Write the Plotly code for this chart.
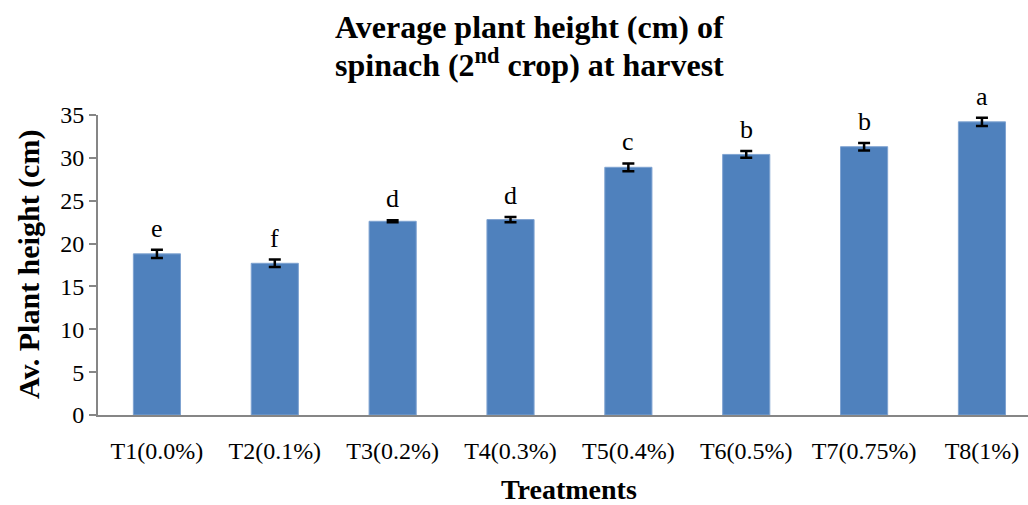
import plotly.graph_objects as go

categories = ["T1(0.0%)", "T2(0.1%)", "T3(0.2%)", "T4(0.3%)", "T5(0.4%)", "T6(0.5%)", "T7(0.75%)", "T8(1%)"]
heights = [18.8, 17.7, 22.6, 22.8, 28.9, 30.4, 31.3, 34.2]
errors = [0.49, 0.43, 0.12, 0.31, 0.45, 0.39, 0.43, 0.47]
letters = ["e", "f", "d", "d", "c", "b", "b", "a"]
y_ticks = [0, 5, 10, 15, 20, 25, 30, 35]

W, H = 1028, 505
L, R, T, B = 98, 0, 115, 90

fig = go.Figure()
fig.add_trace(go.Bar(
    x=list(range(len(categories))), y=heights, width=0.4,
    marker=dict(color="#4F81BD", line=dict(color="#7FA3D1", width=1)),
    error_y=dict(type="data", array=errors, visible=True, color="black", thickness=2.5, width=6),
    hoverinfo="skip",
))

serif = "Liberation Serif, Times New Roman, serif"
ann = []
for i, (h, e, t) in enumerate(zip(heights, errors, letters)):
    ann.append(dict(x=i, y=h + e, xref="x", yref="y", text=t, showarrow=False,
                    yanchor="bottom", yshift=5, font=dict(family=serif, size=26, color="black")))

def px_x(p):
    return (p - L) / (W - L - R)

def px_y(p):
    return 1 - (p - T) / (H - T - B)

ann.append(dict(x=px_x(529), y=px_y(27), xref="paper", yref="paper", showarrow=False,
                text="<b>Average plant height (cm) of</b>",
                font=dict(family=serif, size=32, color="black"), xanchor="center", yanchor="middle"))
ann.append(dict(x=px_x(529), y=px_y(63), xref="paper", yref="paper", showarrow=False,
                text="<b>spinach (2<sup>nd</sup> crop) at harvest</b>",
                font=dict(family=serif, size=32, color="black"), xanchor="center", yanchor="middle"))
ann.append(dict(x=px_x(569), y=px_y(489), xref="paper", yref="paper", showarrow=False,
                text="<b>Treatments</b>", font=dict(family=serif, size=28, color="black"),
                xanchor="center", yanchor="middle"))
ann.append(dict(x=px_x(29), y=px_y(265), xref="paper", yref="paper", showarrow=False,
                text="<b>Av. Plant height (cm)</b>", textangle=-90,
                font=dict(family=serif, size=30, color="black"),
                xanchor="center", yanchor="middle"))

span = (W - L - R) / 117.86
fig.update_layout(
    width=W, height=H, margin=dict(l=L, r=R, t=T, b=B),
    paper_bgcolor="white", plot_bgcolor="white", showlegend=False,
    annotations=ann, bargap=0.6,
    xaxis=dict(tickmode="array", tickvals=list(range(len(categories))), ticktext=categories,
               range=[-0.5, -0.5 + span], showline=True, linecolor="#868686", linewidth=2,
               ticks="", showgrid=False, zeroline=False, ticklabelstandoff=13,
               tickfont=dict(family=serif, size=24, color="black"), fixedrange=True),
    yaxis=dict(range=[0, 35], tickmode="array", tickvals=y_ticks, ticktext=[str(v) for v in y_ticks],
               showline=True, linecolor="#868686", linewidth=2, ticks="outside", ticklen=7,
               tickcolor="#868686", tickwidth=2, showgrid=False, zeroline=False,
               tickfont=dict(family=serif, size=24, color="black"), fixedrange=True),
)
fig.write_html("out.html")
